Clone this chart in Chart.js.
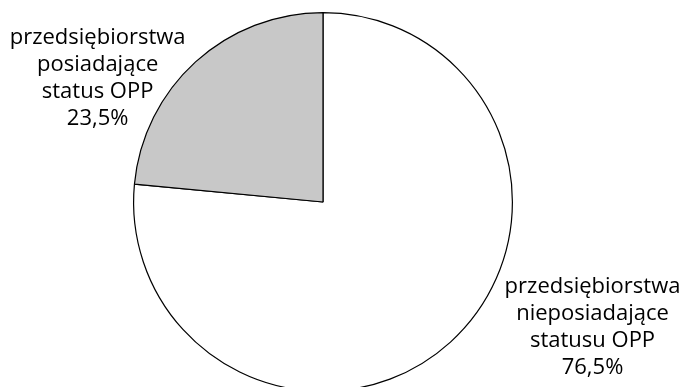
<!DOCTYPE html>
<html>
<head>
<meta charset="utf-8">
<script src="https://cdn.jsdelivr.net/npm/chart.js@4.4.1/dist/chart.umd.min.js"></script>
<style>
  html, body { margin: 0; padding: 0; background: #fff; overflow: hidden; }
  #wrap { position: relative; width: 684px; height: 400px; }
</style>
</head>
<body>
<div id="wrap"><canvas id="pie"></canvas></div>
<script>
// data
const labels = ['przedsiębiorstwa nieposiadające statusu OPP', 'przedsiębiorstwa posiadające status OPP'];
const labelLines = [
  ['przedsiębiorstwa', 'nieposiadające', 'statusu OPP'],
  ['przedsiębiorstwa', 'posiadające', 'status OPP']
];
const values = [76.5, 23.5];
const sliceColors = ['#ffffff', '#c8c8c8'];

// where each label block sits, in units of the pie radius from its centre
const labelAnchors = [[1.423, 0.45], [-1.19, -0.868]];

const pieLabels = {
  id: 'pieLabels',
  afterDraw(chart) {
    const ctx = chart.ctx;
    const meta = chart.getDatasetMeta(0);
    const arc = meta.data[0];
    const r = arc.outerRadius;
    ctx.save();
    ctx.font = '22px "Open Sans", sans-serif';
    ctx.fillStyle = '#000';
    ctx.textAlign = 'center';
    ctx.textBaseline = 'middle';
    values.forEach((v, i) => {
      const lines = labelLines[i].concat([v.toFixed(1).replace('.', ',') + '%']);
      const x = arc.x + labelAnchors[i][0] * r;
      const y = arc.y + labelAnchors[i][1] * r;
      lines.forEach((t, j) => ctx.fillText(t, x, y + j * 27));
    });
    ctx.restore();
  }
};

new Chart(document.getElementById('pie'), {
  type: 'pie',
  data: {
    labels: labels,
    datasets: [{
      data: values,
      backgroundColor: sliceColors,
      borderColor: '#000',
      borderWidth: 1.2
    }]
  },
  options: {
    responsive: true, maintainAspectRatio: false,
    animation: false,
    layout: { padding: { top: 12, bottom: 8, left: 0, right: 38 } },
    plugins: { legend: { display: false }, tooltip: { enabled: false } }
  },
  plugins: [pieLabels]
});
</script>
</body>
</html>
